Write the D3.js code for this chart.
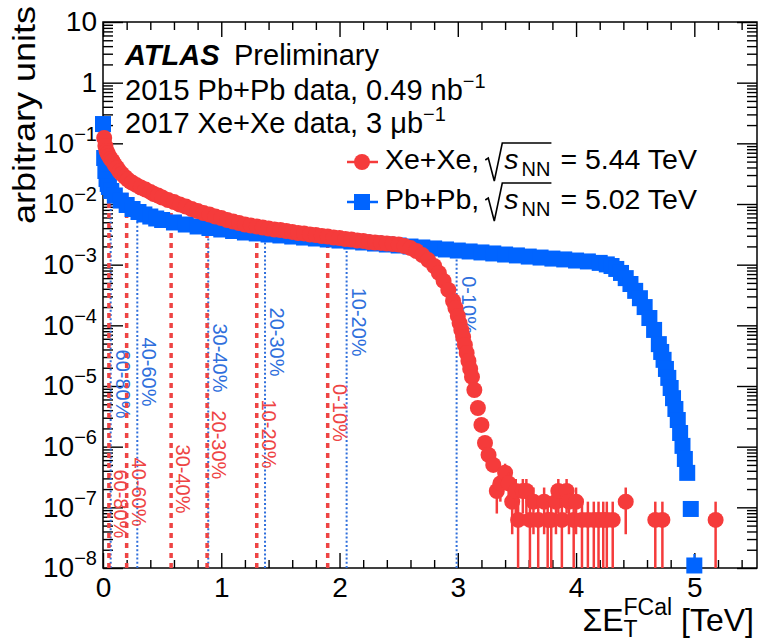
<!DOCTYPE html>
<html>
<head>
<meta charset="utf-8">
<script src="https://cdn.jsdelivr.net/npm/d3@7"></script>
<style>
  body { margin: 0; background: #fff; }
  svg text { font-family: "Liberation Sans", Arial, Helvetica, sans-serif; }
</style>
</head>
<body>
<svg id="chart"></svg>
<script>
// Xe+Xe, main distribution (TeV, arbitrary units)
const xeE = [0.01, 0.02, 0.03, 0.04, 0.05, 0.065, 0.08, 0.10, 0.12, 0.14, 0.16, 0.185, 0.21, 0.245,
  0.28, 0.32, 0.36, 0.40, 0.43, 0.465,
  0.50, 0.55, 0.60, 0.65, 0.70, 0.75, 0.80, 0.85, 0.90, 0.95, 1.00, 1.05, 1.10, 1.15,
  1.20, 1.25, 1.30, 1.35, 1.40, 1.45, 1.50, 1.55, 1.60, 1.65, 1.70, 1.75, 1.80, 1.85,
  1.90, 1.95, 2.00, 2.05, 2.10, 2.15, 2.20, 2.25, 2.30, 2.35, 2.40, 2.45, 2.50, 2.55,
  2.60, 2.65, 2.70, 2.75, 2.80, 2.84, 2.88, 2.92, 2.96, 2.98, 3.00, 3.015, 3.03, 3.045,
  3.06, 3.075, 3.09, 3.105, 3.12, 3.14, 3.17, 3.20, 3.23, 3.26, 3.30];
const xeVal = [0.1225, 0.0904, 0.0748, 0.068, 0.0618, 0.0552, 0.0511, 0.0439, 0.0392, 0.0343, 0.0312, 0.0279, 0.0253, 0.0226,
  0.0206, 0.0187, 0.0173, 0.0158, 0.0146, 0.0138,
  0.0128, 0.01164, 0.0108, 0.00981, 0.0091, 0.00827, 0.00767, 0.00711, 0.00672, 0.00622, 0.00588, 0.00545, 0.00515, 0.00486,
  0.00459, 0.00442, 0.00426, 0.0041, 0.00395, 0.0038, 0.00373, 0.00359, 0.00346, 0.00333, 0.00327, 0.00314, 0.00308, 0.00297,
  0.00291, 0.0028, 0.00275, 0.00265, 0.0026, 0.0025, 0.00246, 0.00236, 0.00232, 0.00228, 0.00223, 0.00219, 0.00215, 0.00203,
  0.00188, 0.00168, 0.00144, 0.00119, 0.00095, 0.00073, 0.00054, 0.000383, 0.000252, 0.000193, 0.000143, 0.000109, 8.38e-5, 6.43e-5,
  4.74e-5, 3.5e-5, 2.58e-5, 1.91e-5, 1.41e-5, 8.6e-6, 4.34e-6, 2.28e-6, 1.15e-6, 7.3e-7, 5.0e-7];

// Xe+Xe, low-count tail with error bars
const xeTailE = [3.33, 3.36, 3.40, 3.43, 3.46, 3.49, 3.51, 3.55, 3.58, 3.61, 3.64, 3.68,
  3.73, 3.76, 3.79, 3.83, 3.85, 3.88, 3.92, 3.94, 3.98, 4.00, 4.05, 4.10, 4.15, 4.19,
  4.23, 4.26, 4.31, 4.42, 4.67, 4.73, 5.18];
const xeTailVal = [1.86e-7, 2.48e-7, 3.72e-7, 2.48e-7, 1.24e-7, 1.86e-7, 6.2e-8, 1.86e-7, 1.86e-7, 6.2e-8, 1.24e-7, 6.2e-8,
  1.24e-7, 6.2e-8, 6.2e-8, 1.24e-7, 1.86e-7, 6.2e-8, 1.86e-7, 1.24e-7, 6.2e-8, 1.24e-7, 6.2e-8, 6.2e-8, 6.2e-8, 6.2e-8,
  6.2e-8, 6.2e-8, 6.2e-8, 1.24e-7, 6.2e-8, 6.2e-8, 6.2e-8];
const xeTailErr = [1.07e-7, 1.24e-7, 1.52e-7, 1.24e-7, 8.8e-8, 1.07e-7, 6.2e-8, 1.07e-7, 1.07e-7, 6.2e-8, 8.8e-8, 6.2e-8,
  8.8e-8, 6.2e-8, 6.2e-8, 8.8e-8, 1.07e-7, 6.2e-8, 1.07e-7, 8.8e-8, 6.2e-8, 8.8e-8, 6.2e-8, 6.2e-8, 6.2e-8, 6.2e-8,
  6.2e-8, 6.2e-8, 6.2e-8, 8.8e-8, 6.2e-8, 6.2e-8, 6.2e-8];

// Pb+Pb
const pbE = [0.00, 0.01, 0.02, 0.03, 0.04, 0.05, 0.07, 0.10, 0.15, 0.20, 0.25, 0.30, 0.35, 0.40, 0.45,
  0.50, 0.60, 0.70, 0.80, 0.90, 1.00, 1.10, 1.20, 1.30, 1.40, 1.50, 1.60, 1.70, 1.80, 1.90,
  2.00, 2.10, 2.20, 2.30, 2.40, 2.50, 2.60, 2.70, 2.80, 2.90, 3.00, 3.10, 3.20, 3.30, 3.40,
  3.50, 3.60, 3.70, 3.80, 3.90, 4.00, 4.10, 4.20, 4.26, 4.30, 4.34, 4.38, 4.42, 4.46, 4.50,
  4.54, 4.58, 4.62, 4.66, 4.70, 4.72, 4.74, 4.76, 4.78, 4.80, 4.82, 4.84, 4.86, 4.88, 4.90,
  4.92, 4.94];
const pbVal = [0.208, 0.0573, 0.035, 0.0258, 0.0214, 0.0191, 0.0164, 0.0138, 0.0114, 0.00963, 0.00827, 0.00738, 0.00672, 0.00622, 0.00577,
  0.00545, 0.00496, 0.00459, 0.00426, 0.00402, 0.0038, 0.00359, 0.00339, 0.00327, 0.00314, 0.00303, 0.00291, 0.0028, 0.0027, 0.0026,
  0.0025, 0.00241, 0.00232, 0.00223, 0.00215, 0.00207, 0.00199, 0.00192, 0.00185, 0.00178, 0.00171, 0.00165, 0.00159, 0.00153, 0.00147,
  0.00142, 0.00136, 0.00131, 0.00126, 0.00122, 0.00117, 0.00113, 0.00107, 0.00101, 0.00095, 0.00085, 0.00073, 0.0006, 0.00048, 0.00037,
  0.00028, 0.0002, 0.000132, 8.4e-5, 4.9e-5, 3.64e-5, 2.7e-5, 1.91e-5, 1.36e-5, 9.27e-6, 6.3e-6, 4.18e-6, 2.75e-6, 1.68e-6, 1.03e-6,
  6.27e-7, 3.7e-7];
const pbTailE = [4.97, 5.00];
const pbTailVal = [9.4e-8, 1.1e-8];
const pbTailErr = [1.2e-8, 6e-9];

// centrality boundaries and their labels
const centLabels = ["60-80%", "40-60%", "30-40%", "20-30%", "10-20%", "0-10%"];
const xeCentE = [0.05, 0.20, 0.576, 0.88, 1.30, 1.90];
const xeLabelVal = [1.14e-7, 1.79e-7, 2.93e-7, 1.07e-6, 1.62e-6, 3.6e-6];
const pbCentE = [0.065, 0.29, 0.89, 1.37, 2.06, 2.99];
const pbLabelVal = [1.08e-5, 1.7e-5, 2.9e-5, 5.3e-5, 1.13e-4, 2.16e-4];

const xTicks = [0, 1, 2, 3, 4, 5];
const yExponents = [-8, -7, -6, -5, -4, -3, -2, -1, 0, 1];

const W = 759, H = 641;
const margin = { top: 22, right: 2, bottom: 73, left: 103 };
const red = "#f53b3b", blue = "#0064ff";
const redText = "#ee4444", blueText = "#2f6fdc";

const svg = d3.select("#chart").attr("width", W).attr("height", H);

const x = d3.scaleLinear().domain([0, 5.53]).range([margin.left, W - margin.right]);
const y = d3.scaleLog().domain([1e-8, 10]).range([H - margin.bottom, margin.top]);
const y0 = y.range()[0], y1 = y.range()[1];

// Axes (ROOT style, ticks inside the frame)
const xMinor = d3.range(0, 5.5, 0.2).filter(v => Math.abs(v - Math.round(v)) > 0.01);
const yMajor = yExponents.map(k => Math.pow(10, k));
const yMinor = [];
yExponents.slice(0, -1).forEach(k => { for (let m = 2; m <= 9; m++) yMinor.push(m * Math.pow(10, k)); });

function addAxis(axis, tr) {
  const g = svg.append("g").attr("transform", tr).call(axis);
  g.select(".domain").remove();
  g.selectAll("line").attr("stroke", "#000").attr("stroke-width", 1.4);
  g.selectAll("text").attr("font-size", 28).attr("fill", "#000")
    .attr("font-family", "Liberation Sans, Arial, sans-serif");
  return g;
}

addAxis(d3.axisBottom(x).tickValues(xTicks).tickSize(-15).tickSizeOuter(0).tickPadding(9)
  .tickFormat(d3.format("d")), `translate(0,${y0})`);
addAxis(d3.axisBottom(x).tickValues(xMinor).tickSize(-8).tickSizeOuter(0).tickFormat(""), `translate(0,${y0})`);
addAxis(d3.axisTop(x).tickValues(xTicks).tickSize(-15).tickSizeOuter(0).tickFormat(""), `translate(0,${y1})`);
addAxis(d3.axisTop(x).tickValues(xMinor).tickSize(-8).tickSizeOuter(0).tickFormat(""), `translate(0,${y1})`);

const yAxisG = addAxis(d3.axisLeft(y).tickValues(yMajor).tickSize(-20).tickSizeOuter(0).tickPadding(6)
  .tickFormat(d => ""), `translate(${margin.left},0)`);
yAxisG.selectAll(".tick text").each(function (d) {
  const t = d3.select(this);
  const k = Math.round(Math.log10(d));
  if (k === 0) { t.text("1"); return; }
  t.append("tspan").text("10");
  if (k !== 1) t.append("tspan").attr("font-size", 20).attr("dy", -12).text("\u2212" + (-k));
});
addAxis(d3.axisLeft(y).tickValues(yMinor).tickSize(-10).tickSizeOuter(0).tickFormat(""), `translate(${margin.left},0)`);
addAxis(d3.axisRight(y).tickValues(yMajor).tickSize(-20).tickSizeOuter(0).tickFormat(""), `translate(${W - margin.right},0)`);
addAxis(d3.axisRight(y).tickValues(yMinor).tickSize(-10).tickSizeOuter(0).tickFormat(""), `translate(${W - margin.right},0)`);

svg.append("rect")
  .attr("x", margin.left).attr("y", margin.top)
  .attr("width", W - margin.right - margin.left).attr("height", y0 - y1)
  .attr("fill", "none").attr("stroke", "#000").attr("stroke-width", 1.5);

// centrality lines
function nearestVal(es, vs, e) {
  const i = d3.leastIndex(es, a => Math.abs(a - e));
  return vs[i];
}
const lines = svg.append("g");
pbCentE.forEach((e, i) => {
  lines.append("line")
    .attr("x1", x(e)).attr("x2", x(e))
    .attr("y1", y0).attr("y2", y(nearestVal(pbE, pbVal, e)))
    .attr("stroke", blueText).attr("stroke-width", 2).attr("stroke-dasharray", "2,2.2");
  lines.append("text")
    .attr("transform", `translate(${x(e) + 12},${y(pbLabelVal[i])}) rotate(90)`)
    .attr("text-anchor", "middle").attr("dominant-baseline", "central")
    .attr("font-size", 20).attr("fill", blueText).text(centLabels[i]);
});
xeCentE.forEach((e, i) => {
  lines.append("line")
    .attr("x1", x(e)).attr("x2", x(e))
    .attr("y1", y0).attr("y2", y(nearestVal(xeE, xeVal, e)))
    .attr("stroke", redText).attr("stroke-width", 3.5).attr("stroke-dasharray", "5,5");
  lines.append("text")
    .attr("transform", `translate(${x(e) + 12},${y(xeLabelVal[i])}) rotate(90)`)
    .attr("text-anchor", "middle").attr("dominant-baseline", "central")
    .attr("font-size", 20).attr("fill", redText).text(centLabels[i]);
});

// Pb+Pb markers
const sq = 16;
const pb = svg.append("g").attr("fill", blue);
pb.selectAll("rect.main").data(pbE).join("rect")
  .attr("x", d => x(d) - sq / 2).attr("y", (d, i) => y(pbVal[i]) - sq / 2)
  .attr("width", sq).attr("height", sq);
pbTailE.forEach((e, i) => {
  const v = pbTailVal[i], err = pbTailErr[i];
  pb.append("line").attr("x1", x(e)).attr("x2", x(e))
    .attr("y1", y(v + err)).attr("y2", Math.min(y0, y(Math.max(v - err, 1e-9))))
    .attr("stroke", blue).attr("stroke-width", 2);
  pb.append("rect").attr("x", x(e) - sq / 2).attr("y", y(v) - sq / 2)
    .attr("width", sq).attr("height", sq);
});

// Xe+Xe markers
const r = 8;
const xe = svg.append("g").attr("fill", red);
xe.selectAll("circle.main").data(xeE).join("circle")
  .attr("cx", d => x(d)).attr("cy", (d, i) => y(xeVal[i])).attr("r", r);
xeTailE.forEach((e, i) => {
  const v = xeTailVal[i], err = xeTailErr[i];
  const lo = v - err > 1e-8 ? y(v - err) : y0;
  xe.append("line").attr("x1", x(e)).attr("x2", x(e))
    .attr("y1", y(v + err)).attr("y2", lo)
    .attr("stroke", red).attr("stroke-width", 2.5);
  xe.append("circle").attr("cx", x(e)).attr("cy", y(v)).attr("r", r);
});

// text block
const txt = svg.append("g").attr("font-size", 29).attr("fill", "#000");
txt.append("text").attr("x", 125).attr("y", 65)
  .attr("font-weight", "bold").attr("font-style", "italic").text("ATLAS");
txt.append("text").attr("x", 234).attr("y", 65).text("Preliminary");
function supLine(yy, main, sup) {
  const t = txt.append("text").attr("x", 125).attr("y", yy);
  t.append("tspan").text(main);
  t.append("tspan").attr("font-size", 20).attr("dy", -12).text(sup);
}
supLine(100, "2015 Pb+Pb data, 0.49 nb", "\u22121");
supLine(133, "2017 Xe+Xe data, 3 \u03bcb", "\u22121");

// legend
function legendEntry(yc, base, label, energy, color, square) {
  const g = svg.append("g");
  g.append("line").attr("x1", 347).attr("x2", 378).attr("y1", yc).attr("y2", yc)
    .attr("stroke", color).attr("stroke-width", 2.5);
  if (square) {
    g.append("rect").attr("x", 362 - sq / 2).attr("y", yc - sq / 2).attr("width", sq).attr("height", sq).attr("fill", color);
  } else {
    g.append("circle").attr("cx", 362).attr("cy", yc).attr("r", r).attr("fill", color);
  }
  const t1 = g.append("text").attr("x", 385).attr("y", base).attr("font-size", 28.5).text(label + ",");
  const rx = 385 + t1.node().getComputedTextLength() + 6;
  const s = g.append("text").attr("x", rx + 19).attr("y", base).attr("font-size", 28.5)
    .attr("font-style", "italic").text("s");
  const nn = g.append("text").attr("x", rx + 19 + s.node().getComputedTextLength() + 3).attr("y", base + 7)
    .attr("font-size", 20).text("NN");
  const xe2 = rx + 19 + s.node().getComputedTextLength() + 3 + nn.node().getComputedTextLength();
  g.append("path")
    .attr("d", `M${rx},${base - 9} L${rx + 3},${base - 11} L${rx + 9},${base + 12} L${rx + 17},${base - 26} L${xe2 + 1},${base - 26}`)
    .attr("fill", "none").attr("stroke", "#000").attr("stroke-width", 1.6);
  g.append("text").attr("x", xe2 + 10).attr("y", base).attr("font-size", 28.5).text("= " + energy + " TeV");
}
legendEntry(162, 169, "Xe+Xe", "5.44", red, false);
legendEntry(202, 209, "Pb+Pb", "5.02", blue, true);

// axis titles
svg.append("text")
  .attr("transform", `translate(35,6) rotate(-90)`)
  .attr("text-anchor", "end").attr("font-size", 31)
  .attr("textLength", 218).attr("lengthAdjust", "spacingAndGlyphs")
  .text("arbitrary units");

const xt = svg.append("g");
const sig = xt.append("text").attr("x", 0).attr("y", 631).attr("font-size", 32).text("\u03a3E");
const w0 = sig.node().getComputedTextLength();
const supT = xt.append("text").attr("x", w0).attr("y", 615).attr("font-size", 23).text("FCal");
xt.append("text").attr("x", w0).attr("y", 637).attr("font-size", 23).text("T");
const w1 = w0 + supT.node().getComputedTextLength();
const tev = xt.append("text").attr("x", w1 + 9).attr("y", 631).attr("font-size", 32).text("[TeV]");
const wTot = w1 + 9 + tev.node().getComputedTextLength();
xt.attr("transform", `translate(${754 - wTot},0)`);
</script>
</body>
</html>
